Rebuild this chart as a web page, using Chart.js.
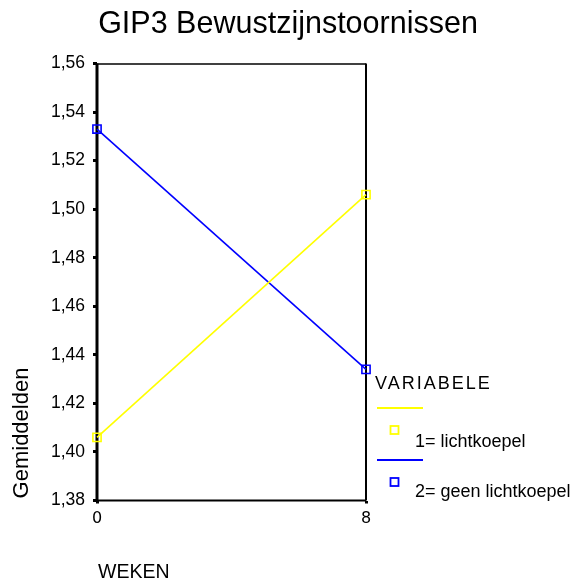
<!DOCTYPE html>
<html>
<head>
<meta charset="utf-8">
<script src="https://cdn.jsdelivr.net/npm/chart.js@4"></script>
<style>
html,body{margin:0;padding:0;background:#fff;}
#wrap{width:575px;height:582px;}
</style>
</head>
<body>
<div id="wrap"><canvas id="c" width="575" height="582"></canvas></div>
<script>
// ---- data ----
const weeks = [0, 8];
const lichtkoepel = [1.406, 1.506];
const geenLichtkoepel = [1.533, 1.434];
const seriesLabels = ['1= lichtkoepel', '2= geen lichtkoepel'];
const seriesColors = ['#ffff00', '#0000ff'];
const yTicks = [1.38, 1.40, 1.42, 1.44, 1.46, 1.48, 1.50, 1.52, 1.54, 1.56];
const xTicks = [0, 8];
const titleText = 'GIP3 Bewustzijnstoornissen';
const yTitle = 'Gemiddelden';
const xTitle = 'WEKEN';
const legendTitle = 'VARIABELE';

const FONT = '"Liberation Sans", Arial, Helvetica, sans-serif';

const toPoints = arr => weeks.map((w, i) => ({x: w, y: arr[i]}));

const decor = {
  id: 'decor',
  beforeDatasetsDraw(chart) {
    const {ctx, chartArea: a} = chart;
    ctx.save();
    ctx.strokeStyle = '#000';
    ctx.lineWidth = 1.5;
    ctx.beginPath(); ctx.moveTo(a.left, a.top + 0.5); ctx.lineTo(a.right, a.top + 0.5); ctx.stroke();
    ctx.lineWidth = 2;
    ctx.beginPath(); ctx.moveTo(a.right, a.top); ctx.lineTo(a.right, a.bottom); ctx.stroke();
    ctx.beginPath(); ctx.moveTo(a.left, a.bottom); ctx.lineTo(a.right, a.bottom); ctx.stroke();
    ctx.lineWidth = 3;
    ctx.beginPath(); ctx.moveTo(a.left, a.top); ctx.lineTo(a.left, a.bottom + 1); ctx.stroke();
    ctx.restore();
  },
  afterDraw(chart) {
    const {ctx} = chart;
    ctx.save();
    ctx.fillStyle = '#000';
    ctx.textBaseline = 'alphabetic';
    ctx.font = '30.5px ' + FONT;
    ctx.textAlign = 'center';
    ctx.fillText(titleText, 288, 33);
    ctx.font = '19.5px ' + FONT;
    ctx.textAlign = 'left';
    ctx.fillText(xTitle, 98, 578);
    ctx.save();
    ctx.translate(28, 433);
    ctx.rotate(-Math.PI / 2);
    ctx.font = '22px ' + FONT;
    ctx.textAlign = 'center';
    ctx.fillText(yTitle, 0, 0);
    ctx.restore();
    ctx.font = '18px ' + FONT;
    ctx.textAlign = 'left';
    try { ctx.letterSpacing = '2px'; } catch (e) {}
    ctx.fillText(legendTitle, 375, 389);
    try { ctx.letterSpacing = '0px'; } catch (e) {}
    const rows = [
      {lineY: 408, sqY: 430, textY: 447},
      {lineY: 460, sqY: 482, textY: 497}
    ];
    ctx.font = '18px ' + FONT;
    rows.forEach((r, i) => {
      ctx.strokeStyle = seriesColors[i];
      ctx.lineWidth = 2;
      ctx.beginPath(); ctx.moveTo(377, r.lineY); ctx.lineTo(423, r.lineY); ctx.stroke();
      ctx.lineWidth = 1.8;
      ctx.strokeRect(394.5 - 4, r.sqY - 4, 8, 8);
      ctx.fillStyle = '#000';
      ctx.fillText(seriesLabels[i], 415, r.textY);
    });
    ctx.restore();
  }
};

new Chart(document.getElementById('c'), {
  type: 'line',
  data: {
    datasets: [
      {
        label: seriesLabels[0],
        data: toPoints(lichtkoepel),
        borderColor: seriesColors[0],
        backgroundColor: 'rgba(0,0,0,0)',
        borderWidth: 1.6,
        pointStyle: 'rect',
        pointRadius: 5.8,
        pointBorderWidth: 1.6,
        pointBorderColor: seriesColors[0],
        pointBackgroundColor: 'rgba(0,0,0,0)',
        clip: false,
        tension: 0
      },
      {
        label: seriesLabels[1],
        data: toPoints(geenLichtkoepel),
        borderColor: seriesColors[1],
        backgroundColor: 'rgba(0,0,0,0)',
        borderWidth: 1.6,
        pointStyle: 'rect',
        pointRadius: 5.8,
        pointBorderWidth: 1.6,
        pointBorderColor: seriesColors[1],
        pointBackgroundColor: 'rgba(0,0,0,0)',
        clip: false,
        tension: 0
      }
    ]
  },
  options: {
    responsive: false,
    animation: false,
    events: [],
    layout: {padding: {top: 63.5, right: 209, bottom: 0, left: 0}},
    plugins: {legend: {display: false}, title: {display: false}, tooltip: {enabled: false}},
    scales: {
      x: {
        type: 'linear',
        min: 0,
        max: 8,
        afterBuildTicks: s => { s.ticks = xTicks.map(v => ({value: v})); },
        afterFit: s => { s.height = 81.5; },
        border: {display: false},
        grid: {drawOnChartArea: false, drawTicks: true, tickLength: 3, tickWidth: 3, color: '#000'},
        ticks: {color: '#000', font: {family: '"DejaVu Sans", sans-serif', size: 16}, padding: 6, maxRotation: 0, autoSkip: false}
      },
      y: {
        type: 'linear',
        min: 1.38,
        max: 1.56,
        afterBuildTicks: s => { s.ticks = yTicks.map(v => ({value: v})); },
        afterFit: s => { s.width = 97; },
        border: {display: false},
        grid: {drawOnChartArea: false, drawTicks: true, tickLength: 4, tickWidth: 3, color: '#000'},
        ticks: {
          color: '#000',
          font: {family: FONT, size: 17.5},
          padding: 8,
          autoSkip: false,
          callback: v => v.toFixed(2).replace('.', ',')
        }
      }
    }
  },
  plugins: [decor]
});
</script>
</body>
</html>
